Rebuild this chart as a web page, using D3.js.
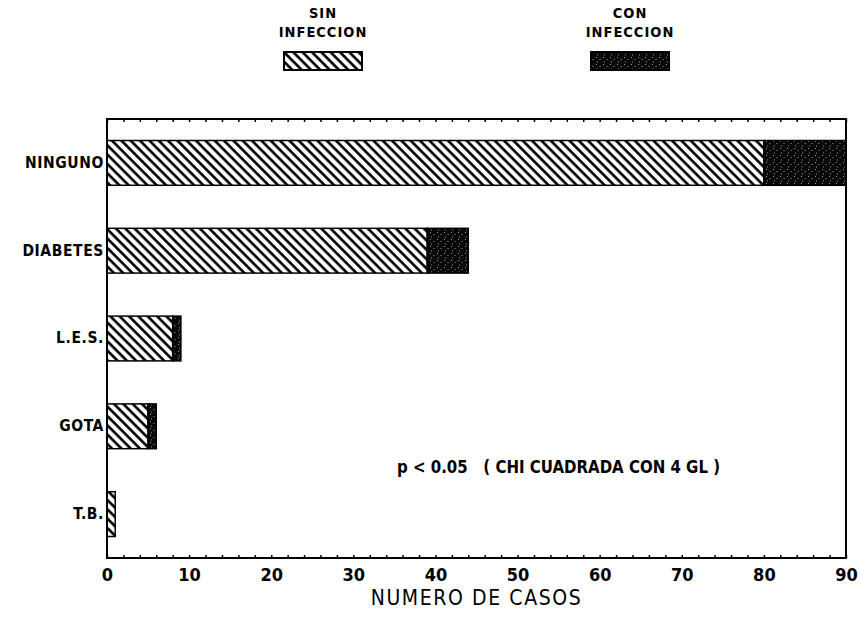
<!DOCTYPE html>
<meta charset="utf-8">
<script src="https://d3js.org/d3.v7.min.js"></script>
<style>
  body { margin: 0; background: #fff; }
  text { font-family: "DejaVu Sans Condensed", "Liberation Sans", sans-serif; fill: #000; }
</style>
<div id="chart"></div>
<script>
// data
var categories = ["NINGUNO", "DIABETES", "L.E.S.", "GOTA", "T.B."];
var sinInfeccion = [80, 39, 8, 5, 1];
var conInfeccion = [10, 5, 1, 1, 0];
var xTicks = [0, 10, 20, 30, 40, 50, 60, 70, 80, 90];
var seriesKeys = ["sin", "con"];
var seriesLabels = [["SIN", "INFECCION"], ["CON", "INFECCION"]];
var xTitle = "NUMERO DE CASOS";
var note = "p < 0.05   ( CHI CUADRADA CON 4 GL )";

var margin = {top: 119, right: 16, bottom: 66, left: 107},
    width = 862 - margin.left - margin.right,
    height = 624 - margin.top - margin.bottom;

var svg = d3.select("#chart").append("svg")
    .attr("width", 862)
    .attr("height", 624);

// fills
var defs = svg.append("defs");
var hatch = defs.append("pattern")
    .attr("id", "hatch")
    .attr("patternUnits", "userSpaceOnUse")
    .attr("width", 6.6).attr("height", 6.6)
    .attr("patternTransform", "rotate(-45)");
hatch.append("rect").attr("width", 6.6).attr("height", 6.6).attr("fill", "#fff");
hatch.append("line")
    .attr("x1", 1.5).attr("y1", 0).attr("x2", 1.5).attr("y2", 6.6)
    .attr("stroke", "#000").attr("stroke-width", 2.6);

var dots = defs.append("pattern")
    .attr("id", "dots")
    .attr("patternUnits", "userSpaceOnUse")
    .attr("width", 7).attr("height", 7);
dots.append("rect").attr("width", 7).attr("height", 7).attr("fill", "#080808");
[[1, 1], [4.5, 3], [2, 5.5]].forEach(function(p) {
  dots.append("rect").attr("x", p[0]).attr("y", p[1]).attr("width", 1).attr("height", 1)
      .attr("fill", "#999");
});

var fills = {sin: "url(#hatch)", con: "url(#dots)"};

var g = svg.append("g")
    .attr("transform", "translate(" + margin.left + "," + margin.top + ")");

var table = categories.map(function(c, i) {
  return {cat: c, sin: sinInfeccion[i], con: conInfeccion[i]};
});

var x = d3.scaleLinear().domain([0, 90]).range([0, width]);
var y = d3.scaleBand().domain(categories).range([0, height])
    .paddingInner(0.49).paddingOuter(0.245);

var stacked = d3.stack().keys(seriesKeys)(table);

// bars
g.selectAll(".layer")
  .data(stacked)
  .enter().append("g")
    .attr("class", "layer")
    .attr("fill", function(d) { return fills[d.key]; })
  .selectAll("rect")
  .data(function(d) { return d.filter(function(v) { return v[1] > v[0]; }); })
  .enter().append("rect")
    .attr("x", function(d) { return x(d[0]); })
    .attr("y", function(d) { return y(d.data.cat); })
    .attr("width", function(d) { return x(d[1]) - x(d[0]); })
    .attr("height", y.bandwidth())
    .attr("stroke", "#000")
    .attr("stroke-width", 1.5);

// frame
g.append("rect")
    .attr("width", width).attr("height", height)
    .attr("fill", "none").attr("stroke", "#000").attr("stroke-width", 2);

// inward ticks, bottom and top
var minor = d3.range(0, 91, 2);
g.append("g")
    .attr("transform", "translate(0," + height + ")")
    .call(d3.axisTop(x).tickValues(minor).tickSize(3).tickFormat(""))
    .call(function(a) { a.select(".domain").remove(); a.selectAll("line").attr("stroke-width", 1.5); });
g.append("g")
    .call(d3.axisBottom(x).tickValues(minor).tickSize(3).tickFormat(""))
    .call(function(a) { a.select(".domain").remove(); a.selectAll("line").attr("stroke-width", 1.5); });

// tick labels
g.append("g")
    .attr("transform", "translate(0," + height + ")")
    .call(d3.axisBottom(x).tickValues(xTicks).tickSize(0).tickPadding(10))
    .call(function(a) {
      a.select(".domain").remove();
      a.selectAll("text")
        .style("font-size", "18px").style("font-weight", "bold")
        .style("font-family", "'DejaVu Sans Condensed',sans-serif");
    });

// category labels
g.append("g")
    .call(d3.axisLeft(y).tickSize(0).tickPadding(3))
    .call(function(a) {
      a.select(".domain").remove();
      a.selectAll("text")
        .style("font-size", "15.5px").style("font-weight", "bold")
        .style("letter-spacing", "0.6px")
        .style("font-family", "'DejaVu Sans Condensed',sans-serif");
    });

// axis title
g.append("text")
    .attr("x", width / 2).attr("y", height + 47)
    .attr("text-anchor", "middle")
    .style("font-size", "21px")
    .style("letter-spacing", "1.6px")
    .text(xTitle);

// note
svg.append("text")
    .attr("x", 397).attr("y", 473)
    .attr("textLength", 323)
    .attr("lengthAdjust", "spacingAndGlyphs")
    .attr("xml:space", "preserve")
    .style("white-space", "pre")
    .style("font-size", "17px").style("font-weight", "bold")
    .text(note);

// legend
var legendX = [323, 630];
var legend = svg.selectAll(".legend")
  .data(seriesKeys)
  .enter().append("g")
    .attr("class", "legend")
    .attr("transform", function(d, i) { return "translate(" + legendX[i] + ",0)"; });

legend.append("text")
    .attr("y", 18).attr("text-anchor", "middle")
    .style("font-size", "14.5px").style("font-weight", "bold").style("letter-spacing", "1px")
    .text(function(d, i) { return seriesLabels[i][0]; });
legend.append("text")
    .attr("y", 37).attr("text-anchor", "middle")
    .style("font-size", "14.5px").style("font-weight", "bold").style("letter-spacing", "1px")
    .text(function(d, i) { return seriesLabels[i][1]; });
legend.append("rect")
    .attr("x", -39).attr("y", 52).attr("width", 78).attr("height", 18)
    .attr("fill", function(d) { return fills[d]; })
    .attr("stroke", "#000").attr("stroke-width", 2);
</script>
